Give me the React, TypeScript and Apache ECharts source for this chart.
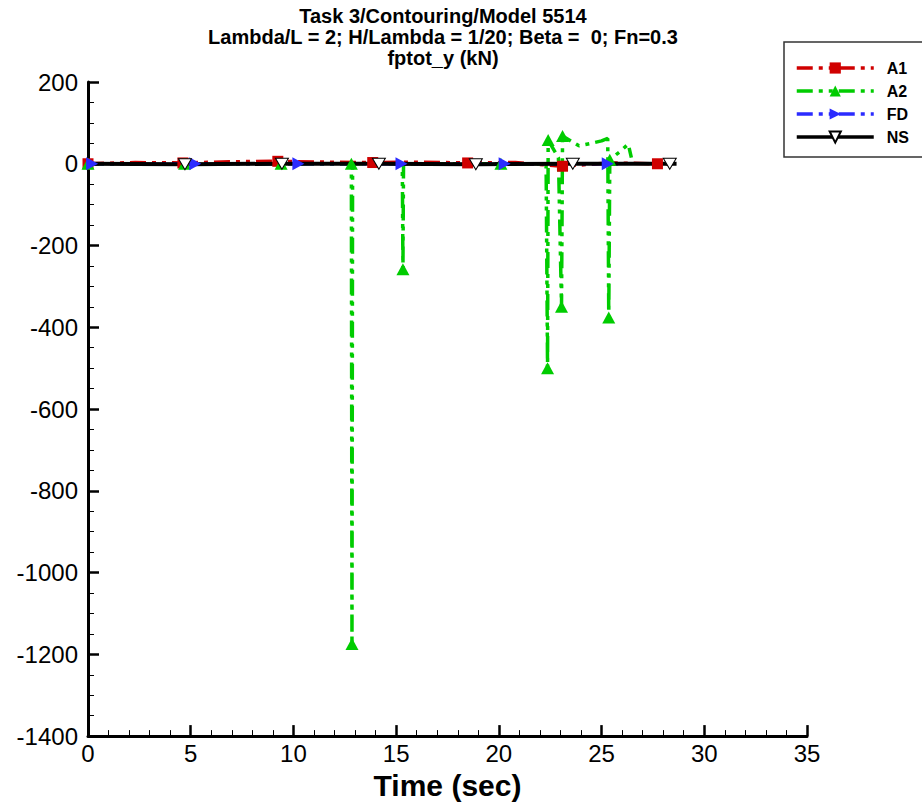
import React, { useEffect, useRef } from "react";
import * as echarts from "echarts";

// ---- Data ----
const TITLE_LINES = [
  "Task 3/Contouring/Model 5514",
  "Lambda/L = 2; H/Lambda = 1/20; Beta =  0; Fn=0.3",
  "fptot_y (kN)",
];
const X_NAME = "Time (sec)";
const SERIES_NAMES = ["A1", "A2", "FD", "NS"];

// A1
const A1_TIME = [0, 2.3, 4.62, 6.9, 9.24, 11.5, 13.86, 16.2, 18.48, 20.8, 23.1, 25.4, 27.72, 28.6];
const A1_VALUE = [0, 3, 2, 5, 6, 4, 3, 4, 2, 3, -6, 2, 0, 0];
const A1_MARKS = [0, 2, 4, 6, 8, 10, 12];

// A2
const A2_TIME = [0, 4.7, 9.4, 12.82, 12.85, 12.88, 15.3, 15.33, 15.36, 20.1, 22.3, 22.37, 22.4, 22.9, 23.05, 23.1, 23.9, 24.5, 25.0, 25.3, 25.35, 25.4, 25.9, 26.3, 26.45];
const A2_VALUE = [0, 0, 0, 0, -1175, 0, 0, -258, 0, 0, 0, -500, 58, 15, -350, 68, 44, 50, 56, 62, -376, 10, 30, 48, 15];
const A2_MARKS = [0, 1, 2, 3, 4, 7, 9, 11, 12, 14, 15, 20, 21];

// FD
const FD_TIME = [0, 0.2, 5.22, 10.24, 15.26, 20.28, 25.3, 26.0];
const FD_VALUE = [0, 0, 0, 0, 0, 0, 0, 0];
const FD_MARKS = [1, 2, 3, 4, 5, 6];

// NS
const NS_TIME = [0, 4.72, 9.44, 14.16, 18.88, 23.6, 28.32, 28.65];
const NS_VALUE = [0, -1, 0, 0, -1, 0, 0, 0];
const NS_MARKS = [1, 2, 3, 4, 5, 6];

const FONT = "'Liberation Sans', Arial, Helvetica, sans-serif";
const DASH = [16, 6, 4, 6, 4, 6];

function build(times: number[], values: number[], marks: number[]) {
  return times.map((t, i) =>
    marks.includes(i) ? { value: [t, values[i]] } : { value: [t, values[i]], symbol: "none" }
  );
}

export default function App() {
  const ref = useRef<HTMLDivElement>(null);

  useEffect(() => {
    if (!ref.current) return;
    const chart = echarts.init(ref.current, null, { renderer: "svg" });

    const option: any = {
      animation: false,
      backgroundColor: "#ffffff",
      graphic: [
        {
          type: "text",
          x: 443,
          y: 5,
          style: {
            text: TITLE_LINES.join("\n"),
            font: `bold 20px ${FONT}`,
            fill: "#000",
            textAlign: "center",
            textVerticalAlign: "top",
            lineHeight: 21,
          },
        },
      ],
      legend: {
        orient: "vertical",
        left: 784,
        top: 42,
        padding: [18, 14, 12, 11],
        itemWidth: 77,
        itemHeight: 14,
        itemGap: 7,
        borderColor: "#333",
        borderWidth: 1.5,
        backgroundColor: "#fff",
        lineStyle: { width: 3.5 },
        textStyle: { fontFamily: FONT, fontWeight: "bold", fontSize: 16, color: "#000", padding: [0, 0, 0, 8] },
        data: SERIES_NAMES,
        selectedMode: false,
      },
      grid: { left: 88, top: 82, width: 719, height: 659 },
      xAxis: {
        type: "value",
        min: 0,
        max: 35,
        interval: 5,
        name: X_NAME,
        nameLocation: "middle",
        nameGap: 27,
        nameTextStyle: { fontFamily: FONT, fontWeight: "bold", fontSize: 30, color: "#000" },
        axisLine: { show: true, onZero: false, lineStyle: { color: "#000", width: 3 } },
        axisTick: { show: true, inside: true, length: 11, lineStyle: { color: "#000", width: 2.5 } },
        minorTick: { show: true, splitNumber: 5, length: 6, lineStyle: { color: "#000", width: 1 } },
        axisLabel: { fontFamily: FONT, fontSize: 24, color: "#000", margin: 5, formatter: (v: number) => String(v) },
        splitLine: { show: false },
      },
      yAxis: {
        type: "value",
        min: -1400,
        max: 200,
        interval: 200,
        axisLine: { show: true, onZero: false, lineStyle: { color: "#000", width: 3 } },
        axisTick: { show: true, inside: true, length: 11, lineStyle: { color: "#000", width: 2.5 } },
        minorTick: { show: true, splitNumber: 4, length: 6, lineStyle: { color: "#000", width: 1 } },
        axisLabel: { fontFamily: FONT, fontSize: 24, color: "#000", margin: 10, formatter: (v: number) => String(v) },
        splitLine: { show: false },
      },
      series: [
        {
          name: "A1",
          type: "line",
          data: build(A1_TIME, A1_VALUE, A1_MARKS),
          symbol: "rect",
          symbolSize: 11,
          showAllSymbol: true,
          lineStyle: { color: "#d00000", width: 3.5, type: DASH },
          itemStyle: { color: "#d00000" },
          emphasis: { disabled: true },
        },
        {
          name: "A2",
          type: "line",
          data: build(A2_TIME, A2_VALUE, A2_MARKS),
          symbol: "triangle",
          symbolSize: [13, 12],
          showAllSymbol: true,
          lineStyle: { color: "#00cc00", width: 3.5, type: DASH },
          itemStyle: { color: "#00cc00" },
          emphasis: { disabled: true },
        },
        {
          name: "FD",
          type: "line",
          data: build(FD_TIME, FD_VALUE, FD_MARKS),
          symbol: "triangle",
          symbolRotate: -90,
          symbolSize: [13, 12],
          showAllSymbol: true,
          lineStyle: { color: "#2b2bff", width: 3.5, type: DASH },
          itemStyle: { color: "#2b2bff" },
          emphasis: { disabled: true },
        },
        {
          name: "NS",
          type: "line",
          data: build(NS_TIME, NS_VALUE, NS_MARKS),
          symbol: "triangle",
          symbolRotate: 180,
          symbolSize: [13, 11],
          showAllSymbol: true,
          lineStyle: { color: "#000", width: 4, type: "solid" },
          itemStyle: { color: "#fff", borderColor: "#000", borderWidth: 1 },
          emphasis: { disabled: true },
        },
      ],
    };

    chart.setOption(option);
    return () => chart.dispose();
  }, []);

  return (
    <div
      ref={ref}
      style={{ position: "fixed", left: 0, top: 0, width: 922, height: 805, background: "#fff" }}
    />
  );
}
